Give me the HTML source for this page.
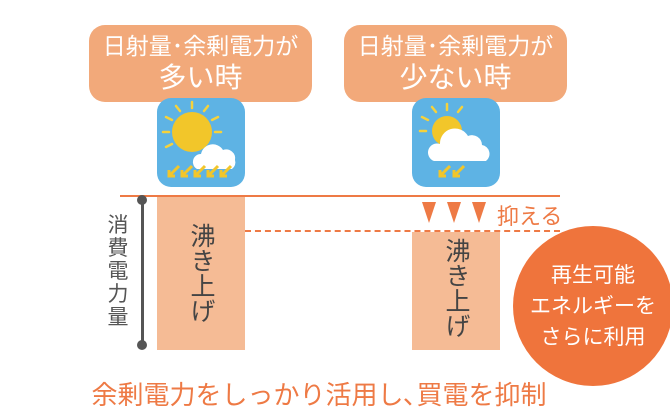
<!DOCTYPE html>
<html><head><meta charset="utf-8"><style>
body{margin:0;width:670px;height:410px;background:#fff;overflow:hidden;position:relative;font-family:"Liberation Sans","Noto Sans CJK JP",sans-serif}
.ab{position:absolute}
.bub{position:absolute;background:#f2a97a;border-radius:16px;color:#fff;text-align:center;font-size:23px;line-height:31px;padding-top:6px;box-sizing:border-box}
.bub b{font-size:28px;font-weight:normal}
.ico{position:absolute;width:88px;height:89px;background:#5eb3e4;border-radius:14px}
.bar{position:absolute;background:#f5bb95;color:#444;font-size:25px;writing-mode:vertical-rl;line-height:88px;box-sizing:border-box;padding-top:26px}
</style></head><body>
<div class="bub" style="left:89px;top:25px;width:223px;height:77px">日射量･余剰電力が<br><b>多い時</b></div>
<div class="bub" style="left:344px;top:25px;width:223px;height:77px">日射量･余剰電力が<br><b>少ない時</b></div>

<div class="ico" style="left:157px;top:98px">
<svg width="88" height="89" viewBox="0 0 88 89">
<g stroke="#f5d23c" stroke-width="2.5" stroke-linecap="round">
<line x1="35" y1="10" x2="35" y2="4"/><line x1="47" y1="13" x2="51" y2="8"/><line x1="23" y1="13" x2="19" y2="8"/><line x1="15" y1="22" x2="9" y2="19"/><line x1="12" y1="34" x2="6" y2="34"/><line x1="15" y1="46" x2="9" y2="49"/><line x1="55" y1="22" x2="61" y2="19"/><line x1="58" y1="34" x2="64" y2="34"/></g>
<circle cx="35" cy="34" r="20" fill="#f2c62a"/>
<path d="M40 71 a8 8 0 0 1 4-15 a12 12 0 0 1 22-4 a9 9 0 0 1 12 10 a8 8 0 0 1-3 9z" fill="#fff"/>
<g stroke="#f2c62a" stroke-width="3" fill="none">
<path d="M22 68 l-10 10 m0-6 v6 h6"/><path d="M35 68 l-10 10 m0-6 v6 h6"/><path d="M48 68 l-10 10 m0-6 v6 h6"/><path d="M61 68 l-10 10 m0-6 v6 h6"/><path d="M74 68 l-10 10 m0-6 v6 h6"/></g></svg></div>

<div class="ico" style="left:412px;top:98px">
<svg width="88" height="89" viewBox="0 0 88 89">
<g stroke="#f5d23c" stroke-width="2.5" stroke-linecap="round">
<line x1="35" y1="12" x2="35" y2="6"/><line x1="46" y1="14" x2="50" y2="9"/><line x1="24" y1="14" x2="20" y2="9"/><line x1="16" y1="22" x2="10" y2="19"/><line x1="14" y1="33" x2="8" y2="33"/></g>
<circle cx="35" cy="33" r="15" fill="#f2c62a"/>
<path d="M22 63 a9 9 0 0 1 6-17 a15 15 0 0 1 28-8 a10 10 0 0 1 14 9 a9 9 0 0 1 4 16z" fill="#fff"/>
<g stroke="#f2c62a" stroke-width="3" fill="none">
<path d="M38 68 l-10 10 m0-6 v6 h6"/><path d="M52 68 l-10 10 m0-6 v6 h6"/></g></svg></div>

<div class="ab" style="left:120px;top:195px;width:440px;height:2px;background:#ee7a45"></div>
<div class="ab" style="left:245px;top:230px;width:315px;border-top:2px dashed #ee7a45"></div>

<div class="bar" style="left:157px;top:197px;width:88px;height:153px">沸き上げ</div>
<div class="bar" style="left:412px;top:232px;width:88px;height:118px;padding-top:6px">沸き上げ</div>

<div class="ab" style="left:141px;top:200px;width:3px;height:144px;background:#555"></div>
<div class="ab" style="left:137px;top:195px;width:10px;height:10px;border-radius:50%;background:#555"></div>
<div class="ab" style="left:137px;top:340px;width:10px;height:10px;border-radius:50%;background:#555"></div>
<div class="ab" style="left:105px;top:214px;width:26px;font-size:21px;line-height:23px;color:#555;text-align:center">消<br>費<br>電<br>力<br>量</div>

<svg class="ab" style="left:420px;top:200px" width="80" height="25"><g fill="#ee7a45"><path d="M2 2h14l-7 21z"/><path d="M27 2h14l-7 21z"/><path d="M52 2h14l-7 21z"/></g></svg>
<div class="ab" style="left:497px;top:199px;font-size:22px;color:#ee7a45">抑える</div>

<div class="ab" style="left:513px;top:226px;width:160px;height:160px;border-radius:50%;background:#ef743c;color:#fff;font-size:21px;line-height:31px;text-align:center;box-sizing:border-box;padding-top:34px">再生可能<br>エネルギーを<br>さらに利用</div>

<div class="ab" style="left:0;top:375px;width:638px;text-align:center;font-size:26px;color:#ee7a45;white-space:nowrap">余剰電力をしっかり活用し､買電を抑制</div>
</body></html>
